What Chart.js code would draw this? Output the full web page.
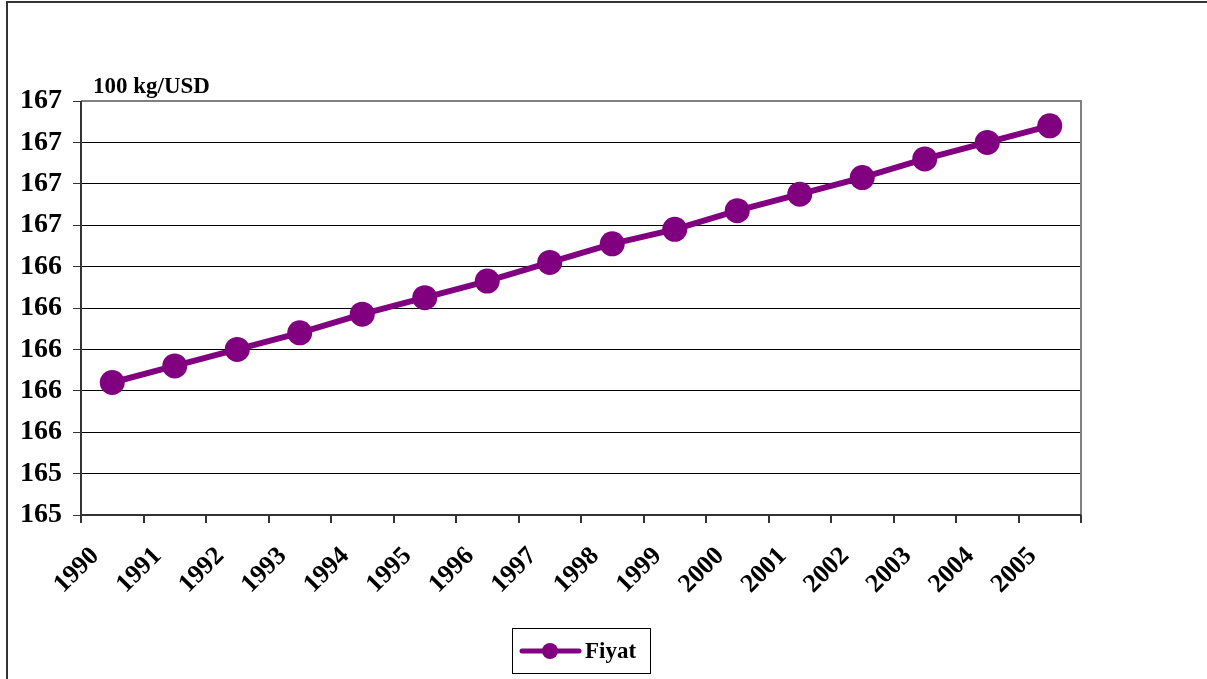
<!DOCTYPE html>
<html>
<head>
<meta charset="utf-8">
<script src="https://cdn.jsdelivr.net/npm/chart.js@4/dist/chart.umd.min.js"></script>
<style>
html,body{margin:0;padding:0;background:#fff;}
#wrap{width:1207px;height:679px;position:relative;}
</style>
</head>
<body>
<div id="wrap"><canvas id="c" width="1207" height="679"></canvas></div>
<script>
const years = ['1990','1991','1992','1993','1994','1995','1996','1997','1998','1999','2000','2001','2002','2003','2004','2005'];
const fiyat = [165.84,165.92,166.00,166.08,166.17,166.25,166.33,166.42,166.51,166.58,166.67,166.75,166.83,166.92,167.00,167.08];
const yTicks = [165.2,165.4,165.6,165.8,166.0,166.2,166.4,166.6,166.8,167.0,167.2];
const yTickLabels = ['165','165','166','166','166','166','166','167','167','167','167'];
const seriesName = 'Fiyat';
const unitLabel = '100 kg/USD';

const PURPLE = '#800080';
const SERIF = '"Liberation Serif", "Times New Roman", serif';

const decor = {
  id: 'decor',
  beforeDraw(chart) {
    const ctx = chart.ctx;
    ctx.save();
    ctx.fillStyle = '#fff';
    ctx.fillRect(0, 0, chart.width, chart.height);
    ctx.strokeStyle = '#333';
    ctx.lineWidth = 2;
    ctx.beginPath();
    ctx.moveTo(7, chart.height);
    ctx.lineTo(7, 2);
    ctx.lineTo(chart.width, 2);
    ctx.stroke();
    ctx.restore();
  },
  beforeDatasetsDraw(chart) {
    const ctx = chart.ctx;
    const a = chart.chartArea;
    ctx.save();
    ctx.strokeStyle = '#808080';
    ctx.lineWidth = 2;
    ctx.beginPath();
    ctx.moveTo(a.left, a.top);
    ctx.lineTo(a.right, a.top);
    ctx.lineTo(a.right, a.bottom);
    ctx.stroke();
    ctx.strokeStyle = '#333';
    ctx.lineWidth = 2;
    ctx.beginPath();
    ctx.moveTo(a.left, a.top);
    ctx.lineTo(a.left, a.bottom);
    ctx.lineTo(a.right, a.bottom);
    ctx.stroke();
    ctx.fillStyle = '#000';
    ctx.font = 'bold 23px ' + SERIF;
    ctx.textBaseline = 'alphabetic';
    ctx.textAlign = 'left';
    ctx.fillText(unitLabel, 93, 93);
    ctx.restore();
  },
  afterDraw(chart) {
    const ctx = chart.ctx;
    const ds = chart.data.datasets[0];
    ctx.save();
    const bx = 512, by = 628, bw = 138, bh = 45;
    ctx.strokeStyle = '#000';
    ctx.lineWidth = 1;
    ctx.strokeRect(bx + 0.5, by + 0.5, bw, bh);
    ctx.strokeStyle = ds.borderColor;
    ctx.lineWidth = 5;
    ctx.lineCap = 'round';
    ctx.beginPath();
    ctx.moveTo(522, 651);
    ctx.lineTo(579, 651);
    ctx.stroke();
    ctx.fillStyle = ds.backgroundColor;
    ctx.beginPath();
    ctx.arc(550, 651, 8, 0, Math.PI * 2);
    ctx.fill();
    ctx.fillStyle = '#000';
    ctx.font = 'bold 23px ' + SERIF;
    ctx.textBaseline = 'middle';
    ctx.textAlign = 'left';
    ctx.fillText(ds.label, 585, 652);
    ctx.restore();
  }
};

new Chart(document.getElementById('c'), {
  type: 'line',
  data: {
    labels: years,
    datasets: [{
      label: seriesName,
      data: fiyat,
      borderColor: PURPLE,
      backgroundColor: PURPLE,
      borderWidth: 6,
      pointRadius: 12.5,
      pointHoverRadius: 12.5,
      pointBorderWidth: 0,
      pointBackgroundColor: PURPLE,
      tension: 0
    }]
  },
  options: {
    responsive: false,
    animation: false,
    events: [],
    layout: { padding: { top: 101, right: 126, left: 0, bottom: 0 } },
    plugins: { legend: { display: false }, tooltip: { enabled: false }, title: { display: false } },
    scales: {
      x: {
        type: 'category',
        offset: true,
        afterFit(scale) { scale.height = 679 - 515; },
        grid: { offset: true, drawOnChartArea: false, drawTicks: true, tickLength: 8, color: '#333', lineWidth: 2 },
        border: { display: false },
        ticks: {
          autoSkip: false,
          minRotation: 45,
          maxRotation: 45,
          padding: 18,
          labelOffset: -17,
          color: '#000',
          font: { family: SERIF, size: 26, weight: 'bold' }
        }
      },
      y: {
        type: 'linear',
        min: 165.2,
        max: 167.2,
        afterFit(scale) { scale.width = 81; },
        afterBuildTicks(scale) { scale.ticks = yTicks.map(v => ({ value: v })); },
        grid: {
          drawTicks: true,
          tickLength: 8,
          color: (c) => c.tick && c.tick.value === yTicks[yTicks.length - 1] ? 'rgba(0,0,0,0)' : '#000',
          tickColor: '#333',
          lineWidth: 1
        },
        border: { display: false },
        ticks: {
          padding: 11,
          color: '#000',
          font: { family: SERIF, size: 28, weight: 'bold' },
          callback: (v, i) => yTickLabels[i]
        }
      }
    }
  },
  plugins: [decor]
});
</script>
</body>
</html>
